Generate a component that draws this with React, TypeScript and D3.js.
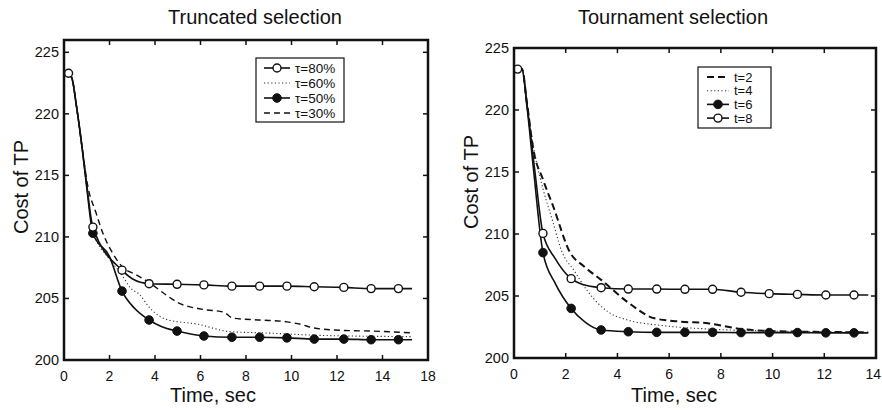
import React from "react";
import * as d3 from "d3";

type Pt = [number, number];

// ---- axes ----
const yTicks = [200, 205, 210, 215, 220, 225];
const leftXTicks = [0, 2, 4, 6, 8, 10, 12, 14, 16];
const leftXTickLabels = ["0", "2", "4", "6", "8", "10", "12", "14", "18"];
const rightXTicks = [0, 2, 4, 6, 8, 10, 12, 14];
const rightXTickLabels = ["0", "2", "4", "6", "8", "10", "12", "14"];

// ---- truncated selection ----
const leftHead: Pt[] = [[0.35, 222.9], [0.55, 220.6], [0.8, 217.2]];
const leftStart: Pt[] = [[0.2, 223.3]];

const tau80Marks: Pt[] = [
  [0.2, 223.3], [1.27, 210.8], [2.55, 207.3], [3.74, 206.2], [4.97, 206.15], [6.15, 206.1], [7.38, 206.0],
  [8.6, 206.0], [9.8, 206.0], [11.0, 205.95], [12.3, 205.9], [13.5, 205.8], [14.7, 205.8],
];
const tau80Extra: Pt[] = [[1.0, 214.2], [3.0, 206.6], [15.3, 205.8]];

const tau50Marks: Pt[] = [
  [1.27, 210.3], [2.55, 205.6], [3.74, 203.25], [4.97, 202.35], [6.15, 201.95], [7.38, 201.85],
  [8.6, 201.85], [9.8, 201.8], [11.0, 201.7], [12.3, 201.7], [13.5, 201.65], [14.7, 201.65],
];
const tau50Extra: Pt[] = [[1.0, 214.0], [2.0, 208.4], [3.1, 204.2], [4.3, 202.7], [15.3, 201.65]];

const tau60: Pt[] = [
  [1.0, 214.1], [1.27, 210.5], [2.0, 208.2], [2.55, 206.9], [2.9, 205.9], [3.33, 205.3],
  [3.74, 204.3], [4.5, 203.3], [5.9, 202.9], [7.3, 202.3], [8.8, 202.2], [11.3, 202.0], [15.3, 201.9],
];

const tau30: Pt[] = [
  [1.05, 214.1], [1.4, 212.0], [1.71, 210.3], [2.1, 208.8], [2.55, 207.6], [3.2, 206.9],
  [3.74, 206.3], [4.4, 205.4], [4.97, 204.7], [6.15, 204.1], [7.0, 203.9], [7.43, 203.4],
  [8.6, 203.25], [9.8, 203.1], [10.4, 202.9], [11.0, 202.6], [12.3, 202.4], [13.5, 202.35], [15.3, 202.2],
];

// ---- tournament selection ----
const rightHead: Pt[] = [[0.31, 223.3]];
const rightStart: Pt[] = [[0.14, 223.3]];

const t8Marks: Pt[] = [
  [0.14, 223.3], [1.12, 210.05], [2.21, 206.4], [3.37, 205.67], [4.42, 205.56], [5.52, 205.56], [6.61, 205.54],
  [7.68, 205.54], [8.78, 205.3], [9.87, 205.19], [10.96, 205.13], [12.06, 205.08], [13.15, 205.08],
];
const t8Extra: Pt[] = [[0.5, 220.5], [0.8, 215.2], [1.6, 208.0], [2.7, 205.9], [13.7, 205.08]];

const t6Marks: Pt[] = [
  [1.12, 208.5], [2.21, 204.0], [3.37, 202.26], [4.42, 202.12], [5.52, 202.07], [6.61, 202.07],
  [7.68, 202.07], [8.78, 202.05], [9.87, 202.05], [10.96, 202.05], [12.06, 202.03], [13.15, 202.03],
];
const t6Extra: Pt[] = [[0.5, 220.3], [0.75, 215.3], [1.6, 206.0], [2.75, 202.9], [13.7, 202.03]];

const t2: Pt[] = [
  [0.5, 220.6], [0.75, 216.8], [1.12, 214.4], [1.52, 212.2], [2.17, 208.5], [2.7, 207.4],
  [3.37, 206.3], [4.4, 204.5], [5.43, 203.2], [6.46, 202.93], [7.5, 202.8], [8.78, 202.34],
  [9.86, 202.18], [11.36, 202.12], [13.7, 202.07],
];

const t4: Pt[] = [
  [0.5, 220.5], [0.8, 216.5], [1.14, 213.5], [1.5, 211.0], [1.83, 208.7], [2.34, 207.0],
  [2.86, 205.35], [3.63, 203.73], [4.4, 203.06], [5.56, 202.66], [7.49, 202.34], [9.8, 202.18], [13.7, 202.07],
];

const byX = (pts: Pt[]) => {
  const seen = new Set<number>();
  return [...pts]
    .sort((a, b) => a[0] - b[0])
    .filter((d) => (seen.has(d[0]) ? false : (seen.add(d[0]), true)));
};

type Kind = "open" | "filled" | "dotted" | "dashed" | "dashedBold";
type Series = { label: string; kind: Kind; line: Pt[]; marks: Pt[] };

const leftSeries: Series[] = [
  { label: "τ=80%", kind: "open", line: byX([...leftStart, ...leftHead, ...tau80Extra, ...tau80Marks]), marks: tau80Marks },
  { label: "τ=60%", kind: "dotted", line: byX([...leftStart, ...leftHead, ...tau60]), marks: [] },
  { label: "τ=50%", kind: "filled", line: byX([...leftStart, ...leftHead, ...tau50Extra, ...tau50Marks]), marks: tau50Marks },
  { label: "τ=30%", kind: "dashed", line: byX([...leftStart, ...leftHead, ...tau30]), marks: [] },
];

const rightSeries: Series[] = [
  { label: "t=2", kind: "dashedBold", line: byX([...rightStart, ...rightHead, ...t2]), marks: [] },
  { label: "t=4", kind: "dotted", line: byX([...rightStart, ...rightHead, ...t4]), marks: [] },
  { label: "t=6", kind: "filled", line: byX([...rightStart, ...rightHead, ...t6Extra, ...t6Marks]), marks: t6Marks },
  { label: "t=8", kind: "open", line: byX([...rightStart, ...rightHead, ...t8Extra, ...t8Marks]), marks: t8Marks },
];

const FONT = "'Liberation Sans', Arial, Helvetica, sans-serif";

function strokeFor(kind: Kind) {
  switch (kind) {
    case "dotted":
      return { stroke: "#333", strokeWidth: 1.1, strokeDasharray: "1.2,2.4" };
    case "dashed":
      return { stroke: "#111", strokeWidth: 1.4, strokeDasharray: "6,4" };
    case "dashedBold":
      return { stroke: "#111", strokeWidth: 2, strokeDasharray: "7,4" };
    default:
      return { stroke: "#111", strokeWidth: 1.6, strokeDasharray: undefined };
  }
}

function Marker({ cx, cy, kind }: { cx: number; cy: number; kind: Kind }) {
  if (kind === "open") return <circle cx={cx} cy={cy} r={4} fill="#fff" stroke="#111" strokeWidth={1.4} />;
  if (kind === "filled") return <circle cx={cx} cy={cy} r={4.3} fill="#111" stroke="#111" strokeWidth={1} />;
  return null;
}

type PanelProps = {
  rect: { l: number; r: number; t: number; b: number };
  xDomain: [number, number];
  yDomain: [number, number];
  xTicks: number[];
  xTickLabels: string[];
  title: string;
  titleX: number;
  xLabelX: number;
  yLabelX: number;
  yLabelY: number;
  series: Series[];
  legend: { x: number; y: number; w: number; h: number; first: number; step: number; sample: [number, number]; textX: number; fontSize: number };
};

function Panel(p: PanelProps) {
  const { l, r, t, b } = p.rect;
  const x = d3.scaleLinear().domain(p.xDomain).range([l, r]);
  const y = d3.scaleLinear().domain(p.yDomain).range([b, t]);
  const line = d3
    .line<Pt>()
    .x((d) => x(d[0]))
    .y((d) => y(d[1]))
    .curve(d3.curveMonotoneX);
  const tl = 5;
  const lg = p.legend;
  // open-marker series drawn last so its start circle sits on top
  const order = [...p.series].sort((a, c) => (a.kind === "open" ? 1 : 0) - (c.kind === "open" ? 1 : 0));

  return (
    <g fontFamily={FONT} fill="#111">
      <text x={p.titleX} y={24} textAnchor="middle" fontSize={20}>
        {p.title}
      </text>

      {order.map((s) => {
        const st = strokeFor(s.kind);
        return (
          <g key={s.label}>
            <path d={line(s.line) || ""} fill="none" {...st} strokeLinejoin="round" />
            {s.marks.map((m, i) => (
              <Marker key={i} cx={x(m[0])} cy={y(m[1])} kind={s.kind} />
            ))}
          </g>
        );
      })}

      {/* ticks (inside, all four sides) */}
      {p.xTicks.map((v) => (
        <g key={"xt" + v} stroke="#111" strokeWidth={1.5}>
          <line x1={x(v)} x2={x(v)} y1={b} y2={b - tl} />
          <line x1={x(v)} x2={x(v)} y1={t} y2={t + tl} />
        </g>
      ))}
      {yTicks.map((v) => (
        <g key={"yt" + v} stroke="#111" strokeWidth={1.5}>
          <line x1={l} x2={l + tl} y1={y(v)} y2={y(v)} />
          <line x1={r} x2={r - tl} y1={y(v)} y2={y(v)} />
        </g>
      ))}
      <rect x={l} y={t} width={r - l} height={b - t} fill="none" stroke="#111" strokeWidth={2.5} />

      {p.xTicks.map((v, i) => {
        const px = x(v);
        const nearEdge = px > 866;
        return (
          <text
            key={"xl" + v}
            x={nearEdge ? 881 : px}
            y={b + 21}
            textAnchor={nearEdge ? "end" : "middle"}
            fontSize={14}
          >
            {p.xTickLabels[i]}
          </text>
        );
      })}
      {yTicks.map((v) => (
        <text key={"yl" + v} x={l - 5} y={y(v) + 5} textAnchor="end" fontSize={14.5}>
          {v}
        </text>
      ))}

      <text x={p.xLabelX} y={402} textAnchor="middle" fontSize={20}>
        Time, sec
      </text>
      <text
        transform={`translate(${p.yLabelX},${p.yLabelY}) rotate(-90)`}
        textAnchor="middle"
        fontSize={20}
      >
        Cost of TP
      </text>

      {/* legend */}
      <rect x={lg.x} y={lg.y} width={lg.w} height={lg.h} fill="#fff" stroke="#111" strokeWidth={1.2} />
      {p.series.map((s, i) => {
        const cy = lg.first + i * lg.step;
        const st = strokeFor(s.kind);
        return (
          <g key={"lg" + s.label}>
            <line x1={lg.sample[0]} x2={lg.sample[1]} y1={cy} y2={cy} {...st} />
            <Marker cx={(lg.sample[0] + lg.sample[1]) / 2} cy={cy} kind={s.kind} />
            <text x={lg.textX} y={cy + 4.5} fontSize={lg.fontSize}>
              {s.label}
            </text>
          </g>
        );
      })}
    </g>
  );
}

export default function App() {
  return (
    <svg
      width={882}
      height={410}
      style={{ position: "absolute", left: 0, top: 0, background: "#fff" }}
    >
      <rect width={882} height={410} fill="#fff" />
      <Panel
        rect={{ l: 64, r: 428, t: 40, b: 360 }}
        xDomain={[0, 16]}
        yDomain={[200, 226]}
        xTicks={leftXTicks}
        xTickLabels={leftXTickLabels}
        title="Truncated selection"
        titleX={255}
        xLabelX={213}
        yLabelX={28}
        yLabelY={187}
        series={leftSeries}
        legend={{ x: 256, y: 58, w: 88, h: 64, first: 68, step: 15, sample: [264, 290], textX: 295, fontSize: 13.5 }}
      />
      <Panel
        rect={{ l: 514, r: 876, t: 48, b: 358 }}
        xDomain={[0, 14]}
        yDomain={[200, 225]}
        xTicks={rightXTicks}
        xTickLabels={rightXTickLabels}
        title="Tournament selection"
        titleX={673}
        xLabelX={674}
        yLabelX={478}
        yLabelY={182}
        series={rightSeries}
        legend={{ x: 698, y: 67, w: 73, h: 61, first: 77, step: 13.7, sample: [707, 729], textX: 734, fontSize: 13 }}
      />
    </svg>
  );
}
